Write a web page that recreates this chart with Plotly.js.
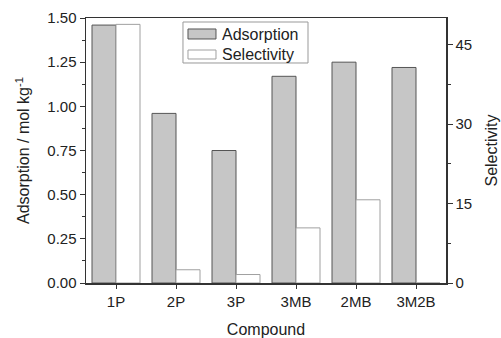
<!DOCTYPE html>
<html>
<head>
<meta charset="utf-8">
<script src="https://cdn.plot.ly/plotly-3.0.1.min.js"></script>
<style>html,body{margin:0;padding:0;background:#fff;}#chart{width:501px;height:338px;}</style>
</head>
<body>
<div id="chart"></div>
<script>
const categories = ["1P", "2P", "3P", "3MB", "2MB", "3M2B"];
const adsorption = [1.46, 0.96, 0.75, 1.17, 1.25, 1.22];
const selectivity = [48.8, 2.5, 1.6, 10.4, 15.7, 0];
const seriesNames = ["Adsorption", "Selectivity"];

const fam = "Liberation Sans, Arial, sans-serif";
const axisColor = "#333";
const adsFill = "#c6c6c6", adsLine = "#555";
const selFill = "#ffffff", selLine = "#a0a0a0";

const data = [
  {type: "bar", name: seriesNames[0], x: categories, y: adsorption, yaxis: "y", offsetgroup: "a",
   marker: {color: adsFill, line: {color: adsLine, width: 1}}},
  {type: "bar", name: seriesNames[1], x: categories, y: selectivity, yaxis: "y2", offsetgroup: "s",
   marker: {color: selFill, line: {color: selLine, width: 1}}}
];

// custom legend (wide swatches as in the reference)
const shapes = [
  {type: "rect", xref: "paper", yref: "paper", x0: 0.2694, x1: 0.6167, y0: 0.8302, y1: 0.9849,
   line: {color: "#999", width: 1}, fillcolor: "#fff", layer: "above"},
  {type: "rect", xref: "paper", yref: "paper", x0: 0.2833, x1: 0.3611, y0: 0.9208, y1: 0.9585,
   line: {color: adsLine, width: 1}, fillcolor: adsFill, layer: "above"},
  {type: "rect", xref: "paper", yref: "paper", x0: 0.2833, x1: 0.3611, y0: 0.8453, y1: 0.8792,
   line: {color: selLine, width: 1}, fillcolor: selFill, layer: "above"}
];
const annotations = [
  {xref: "paper", yref: "paper", x: 0.372, y: 0.9396, xanchor: "left", yanchor: "middle", showarrow: false,
   text: seriesNames[0], font: {family: fam, size: 16, color: "#222"}},
  {xref: "paper", yref: "paper", x: 0.372, y: 0.8623, xanchor: "left", yanchor: "middle", showarrow: false,
   text: seriesNames[1], font: {family: fam, size: 16, color: "#222"}}
];

const layout = {
  width: 501, height: 338,
  margin: {l: 86, r: 55, t: 18, b: 55},
  paper_bgcolor: "#fff", plot_bgcolor: "#fff",
  font: {family: fam, size: 15, color: "#222"},
  barmode: "group", bargap: 0.2, bargroupgap: 0,
  showlegend: false,
  shapes: shapes,
  annotations: annotations,
  xaxis: {type: "category", range: [-0.5, 5.5], showline: true, linecolor: axisColor, linewidth: 1.5,
          mirror: true, ticks: "outside", ticklen: 4, tickcolor: axisColor, showgrid: false,
          title: {text: "Compound", font: {size: 16}, standoff: 15}, tickfont: {size: 15}},
  yaxis: {range: [0, 1.5], dtick: 0.25, tickformat: ".2f", showline: true, linecolor: axisColor, linewidth: 1.5,
          ticks: "outside", ticklen: 5, tickcolor: axisColor, showgrid: false, zeroline: false,
          minor: {dtick: 0.125, ticks: "outside", ticklen: 3, tickcolor: axisColor},
          title: {text: "Adsorption / mol kg<sup>-1</sup>", font: {size: 16}, standoff: 13}, tickfont: {size: 15}},
  yaxis2: {range: [0, 50], dtick: 15, overlaying: "y", side: "right", showline: true, linecolor: axisColor, linewidth: 1.5,
           ticks: "outside", ticklen: 5, tickcolor: axisColor, showgrid: false, zeroline: false,
           minor: {dtick: 7.5, ticks: "outside", ticklen: 3, tickcolor: axisColor},
           title: {text: "Selectivity", font: {size: 16}, standoff: 14}, tickfont: {size: 15}}
};

Plotly.newPlot("chart", data, layout, {displayModeBar: false, staticPlot: true});
</script>
</body>
</html>
